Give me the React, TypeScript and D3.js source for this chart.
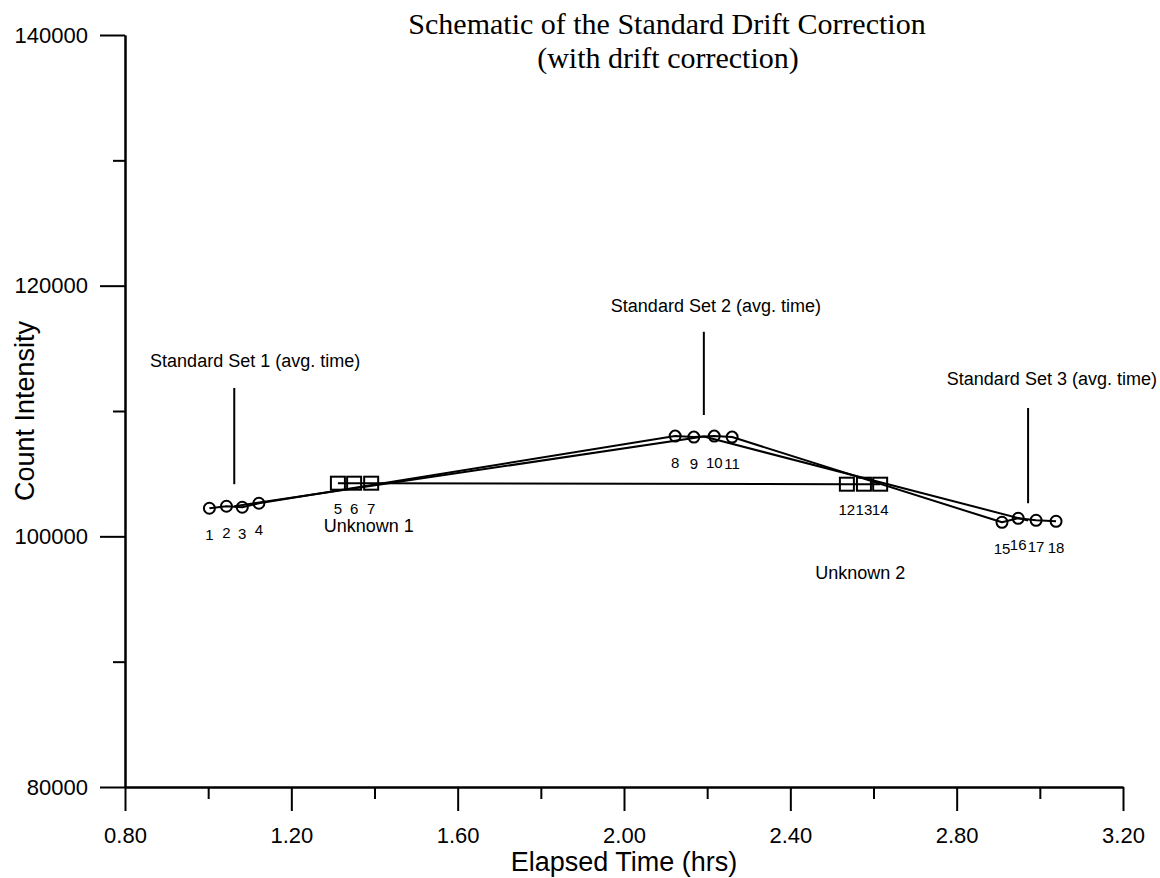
import React, { useEffect, useRef } from "react";
import * as d3 from "d3";

const width = 1160;
const height = 878;
const margin = { top: 35, right: 37, bottom: 93, left: 125 };
const sans = "'Liberation Sans', Arial, Helvetica, sans-serif";
const serif = "'Liberation Serif', 'Times New Roman', serif";

// standards (circles), in run order
const stdIds = [1, 2, 3, 4, 8, 9, 10, 11, 15, 16, 17, 18];
const stdSet = [0, 0, 0, 0, 1, 1, 1, 1, 2, 2, 2, 2];
const stdTimes = [1.003, 1.044, 1.082, 1.122, 2.123, 2.168, 2.217, 2.26, 2.909, 2.948, 2.991, 3.039];
const stdCounts = [102240, 102400, 102320, 102640, 108000, 107920, 108000, 107920, 101120, 101440, 101280, 101200];

// unknowns (squares)
const unkIds = [5, 6, 7, 12, 13, 14];
const unkTimes = [1.312, 1.351, 1.392, 2.536, 2.577, 2.616];
const unkCounts = [104240, 104240, 104240, 104160, 104160, 104160];
const unkNames = ["Unknown 1", "Unknown 2"];
const unkLabelTimes = [1.386, 2.568];
const unkLabelCounts = [100320, 96560];

// standard set annotations
const setNames = ["Standard Set 1 (avg. time)", "Standard Set 2 (avg. time)", "Standard Set 3 (avg. time)"];
const setLabelTimes = [1.113, 2.221, 3.029];
const setLabelCounts = [113520, 117920, 112080];
const setMarkTop = [111840, 116320, 110240];
const setMarkBottom = [104160, 109680, 102640];

const xTicks = [0.8, 1.2, 1.6, 2.0, 2.4, 2.8, 3.2];
const xMinorTicks = [1.0, 1.4, 1.8, 2.2, 2.6, 3.0];
const yTicks = [80000, 100000, 120000, 140000];
const yMinorTicks = [90000, 110000, 130000];

const x = d3.scaleLinear().domain([0.8, 3.2]).range([margin.left, width - margin.right]);
const y = d3.scaleLinear().domain([80000, 140000]).range([height - margin.bottom + 2, margin.top]);

export default function App() {
  const xAxisRef = useRef<SVGGElement>(null);
  const xMinorRef = useRef<SVGGElement>(null);
  const yAxisRef = useRef<SVGGElement>(null);
  const yMinorRef = useRef<SVGGElement>(null);

  const std = stdIds.map((id, i) => ({ id, set: stdSet[i], t: stdTimes[i], v: stdCounts[i] }));
  const unk = unkIds.map((id, i) => ({ id, t: unkTimes[i], v: unkCounts[i] }));

  // average time / count of each standard set = drift correction points
  const avg = [0, 1, 2].map(s => {
    const pts = std.filter(d => d.set === s);
    return { t: d3.mean(pts, d => d.t) as number, v: d3.mean(pts, d => d.v) as number };
  });

  const line = d3
    .line<{ t: number; v: number }>()
    .x(d => x(d.t))
    .y(d => y(d.v));

  useEffect(() => {
    const style = (g: any) => {
      g.selectAll(".domain").attr("stroke-width", 2).attr("stroke", "#000");
      g.selectAll(".tick line").attr("stroke-width", 2).attr("stroke", "#000");
      g.selectAll("text").attr("font-family", sans).attr("font-size", 22).attr("fill", "#000");
      g.attr("font-family", sans);
    };
    d3.select(xAxisRef.current)
      .call(
        d3.axisBottom(x).tickValues(xTicks).tickSize(24).tickSizeOuter(0).tickPadding(16).tickFormat(d3.format(".2f"))
      )
      .call(style);
    d3.select(xMinorRef.current)
      .call(d3.axisBottom(x).tickValues(xMinorTicks).tickSize(12).tickSizeOuter(0).tickFormat(() => ""))
      .call(style);
    d3.select(yAxisRef.current)
      .call(d3.axisLeft(y).tickValues(yTicks).tickSize(25).tickSizeOuter(0).tickPadding(12).tickFormat(d3.format("d")))
      .call(style);
    d3.select(yMinorRef.current)
      .call(d3.axisLeft(y).tickValues(yMinorTicks).tickSize(12).tickSizeOuter(0).tickFormat(() => ""))
      .call(style);
  }, []);

  const y0 = y(80000);

  return (
    <svg
      width={width}
      height={height}
      style={{ position: "absolute", left: 0, top: 0, background: "#fff" }}
    >
      <text x={667} y={34} textAnchor="middle" fontFamily={serif} fontSize={30}>
        Schematic of the Standard Drift Correction
      </text>
      <text x={668} y={68} textAnchor="middle" fontFamily={serif} fontSize={30}>
        (with drift correction)
      </text>

      <g ref={xAxisRef} transform={`translate(0, ${y0})`} />
      <g ref={xMinorRef} transform={`translate(0, ${y0})`} />
      <g ref={yAxisRef} transform={`translate(${margin.left}, 0)`} />
      <g ref={yMinorRef} transform={`translate(${margin.left}, 0)`} />

      <text x={624} y={871} textAnchor="middle" fontFamily={sans} fontSize={27}>
        Elapsed Time (hrs)
      </text>
      <text
        transform={`translate(34, ${(y(80000) + y(140000)) / 2}) rotate(-90)`}
        textAnchor="middle"
        fontFamily={sans}
        fontSize={27}
      >
        Count Intensity
      </text>

      {/* lines */}
      <path d={line(std) || ""} fill="none" stroke="#000" strokeWidth={2} strokeLinejoin="round" />
      <path d={line(avg) || ""} fill="none" stroke="#000" strokeWidth={2} strokeLinejoin="round" />
      <path d={line(unk) || ""} fill="none" stroke="#000" strokeWidth={2} strokeLinejoin="round" />

      {/* standard set markers */}
      {avg.map((a, i) => (
        <g key={"set" + i}>
          <line x1={x(a.t)} x2={x(a.t)} y1={y(setMarkTop[i])} y2={y(setMarkBottom[i])} stroke="#000" strokeWidth={2} />
          <text
            x={x(setLabelTimes[i])}
            y={y(setLabelCounts[i])}
            textAnchor="middle"
            fontFamily={sans}
            fontSize={18}
          >
            {setNames[i]}
          </text>
        </g>
      ))}

      {/* circles */}
      {std.map(d => (
        <g key={"s" + d.id}>
          <circle cx={x(d.t)} cy={y(d.v)} r={5.5} fill="none" stroke="#000" strokeWidth={2} />
          <text x={x(d.t)} y={y(d.v) + 32} textAnchor="middle" fontFamily={sans} fontSize={15}>
            {d.id}
          </text>
        </g>
      ))}

      {/* squares */}
      {unk.map(d => (
        <g key={"u" + d.id}>
          <rect x={x(d.t) - 7} y={y(d.v) - 6.5} width={14} height={13} fill="none" stroke="#000" strokeWidth={2} />
          <text x={x(d.t)} y={y(d.v) + 31} textAnchor="middle" fontFamily={sans} fontSize={15}>
            {d.id}
          </text>
        </g>
      ))}

      {unkNames.map((n, i) => (
        <text
          key={n}
          x={x(unkLabelTimes[i])}
          y={y(unkLabelCounts[i])}
          textAnchor="middle"
          fontFamily={sans}
          fontSize={18}
        >
          {n}
        </text>
      ))}
    </svg>
  );
}
